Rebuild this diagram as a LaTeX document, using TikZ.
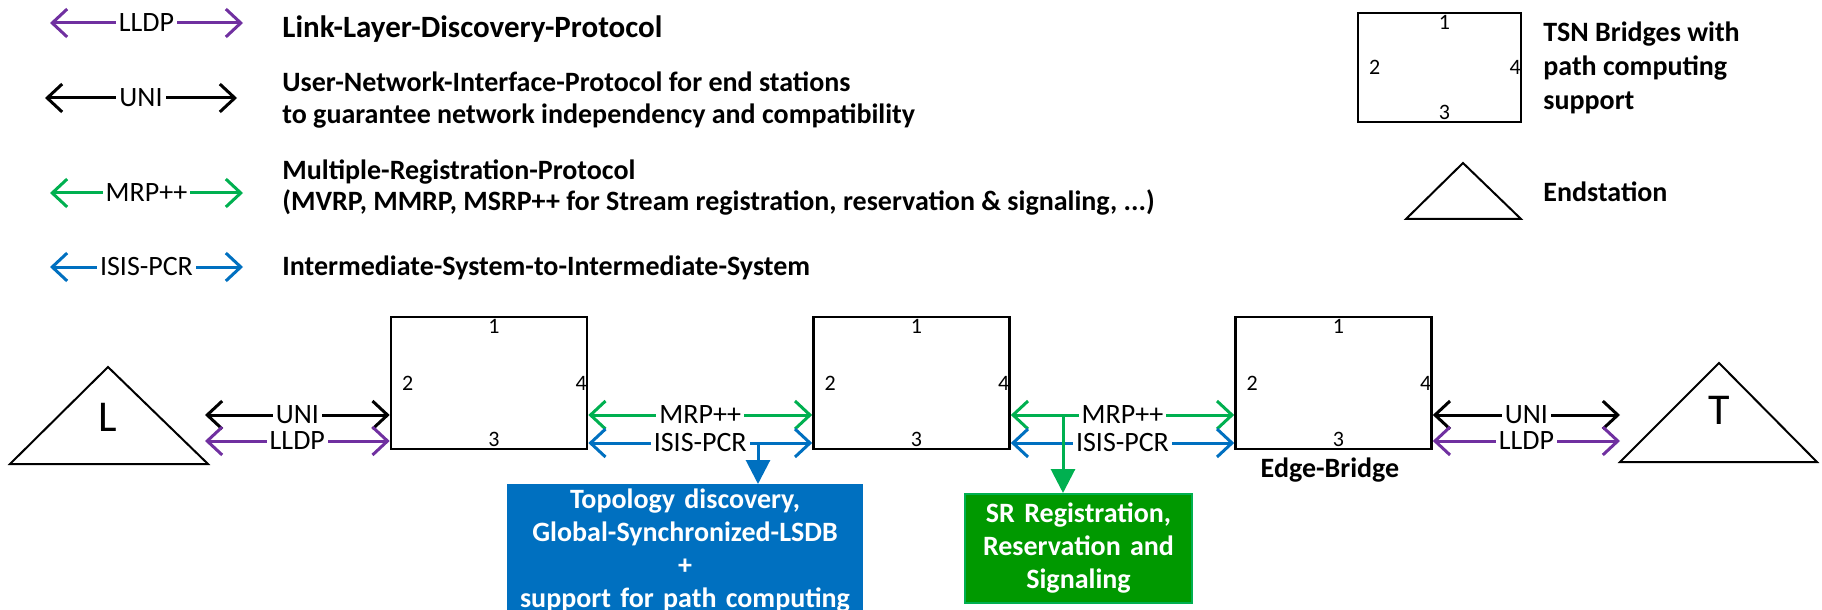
\documentclass[tikz,border=0pt]{standalone}
\usepackage{fontspec}
\setmainfont{Carlito}
\usetikzlibrary{arrows.meta,calc}
\definecolor{cpurple}{HTML}{7030A0}
\definecolor{cgreen}{HTML}{00B050}
\definecolor{cblue}{HTML}{0070C0}
\definecolor{cgbox}{HTML}{009900}
\newcommand{\mkports}[1]{%
  \node[digit] (#1-p1) at ([xshift=2.5pt,yshift=-5.5pt]#1.north) {1};
  \node[digit] (#1-p2) at ([xshift=9pt]#1.west) {2};
  \node[digit] (#1-p4) at ([xshift=-3.5pt]#1.east) {4};
  \node[digit] (#1-p3) at ([xshift=2.5pt,yshift=5.5pt]#1.south) {3};}
\begin{document}
\begin{tikzpicture}[x=0.5pt,y=-0.5pt,
  every node/.style={font=\fontsize{14pt}{16pt}\selectfont, inner sep=0pt},
  proto/.style={line width=1.5pt,{Straight Barb[length=7.5pt,width=14pt]}-{Straight Barb[length=7.5pt,width=14pt]}},
  lbl/.style={fill=white, text=black, inner xsep=1.5pt, inner ysep=1pt},
  legtext/.style={font=\fontsize{14pt}{16pt}\selectfont\bfseries, align=left, anchor=base west},
  bridge/.style={draw, line width=1.3pt, minimum width=98pt, minimum height=66pt},
  digit/.style={font=\fontsize{11pt}{12pt}\selectfont},
  endst/.style={line width=1pt, line join=miter},
  drop/.style={line width=1.5pt, -{Triangle[length=12pt,width=12pt]}},
  infobox/.style={text=white, font=\fontsize{14pt}{16.6pt}\selectfont\bfseries, align=center, inner xsep=0pt}
]
\useasboundingbox (0,0) rectangle (1822,610);

% ---------- legend, left ----------
\coordinate (lgA1) at (50,23);  \coordinate (lgB1) at (243,23);
\coordinate (lgA2) at (45,98);  \coordinate (lgB2) at (237,98);
\coordinate (lgA3) at (50,193); \coordinate (lgB3) at (243,193);
\coordinate (lgA4) at (50,267); \coordinate (lgB4) at (243,267);
\draw[proto,cpurple] (lgA1) -- node[lbl] (lgL1) {LLDP} (lgB1);
\draw[proto,black] (lgA2) -- node[lbl] (lgL2) {UNI} (lgB2);
\draw[proto,cgreen] (lgA3) -- node[lbl] (lgL3) {MRP++} (lgB3);
\draw[proto,cblue] (lgA4) -- node[lbl] (lgL4) {ISIS-PCR} (lgB4);
\node[legtext, font=\fontsize{15.5pt}{17pt}\selectfont\bfseries] (tLLDP) at (282,38) {Link-Layer-Discovery-Protocol};
\node[legtext] (tUNI) at (282,124) {User-Network-Interface-Protocol for end stations\\to guarantee network independency and compatibility};
\node[legtext] (tMRP) at (282,211) {Multiple-Registration-Protocol\\(MVRP, MMRP, MSRP++ for Stream registration, reservation \& signaling, ...)};
\node[legtext] (tISIS) at (282,275) {Intermediate-System-to-Intermediate-System};

% ---------- legend, right ----------
\node[bridge, minimum width=81.5pt, minimum height=54.5pt] (legbox) at (1439.5,67.5) {};
\mkports{legbox}
\node[legtext, font=\fontsize{14pt}{17pt}\selectfont\bfseries] (tTSN) at (1543,110) {TSN Bridges with\\path computing\\support};
\draw[endst] (1406,219) -- (1463,163) -- (1521,219) -- cycle;
\node[legtext] (tEnd) at (1543,201) {Endstation};

% ---------- network ----------
\draw[endst] (10,464) -- (108,367) -- (208,464) -- cycle;
\node[font=\fontsize{22pt}{24pt}\selectfont] (Ltxt) at (108,417) {L};
\draw[endst] (1620,462) -- (1719,363) -- (1817,462) -- cycle;
\node[font=\fontsize{22pt}{24pt}\selectfont] (Ttxt) at (1719,410) {T};

\node[bridge] (b1) at (489,383) {};
\node[bridge] (b2) at (911.5,383) {};
\node[bridge] (b3) at (1333.5,383) {};
\mkports{b1}
\mkports{b2}
\mkports{b3}
\node[legtext, anchor=base] (eb) at (1330,477) {Edge-Bridge};

\coordinate (Luni) at (205,415);
\coordinate (Llldp) at (205,441);
\coordinate (Tuni) at (1620,415);
\coordinate (Tlldp) at (1620,441);

\draw[proto,black] (Luni) -- node[lbl] (n1) {UNI} ([yshift=-16pt]b1.west);
\draw[proto,cpurple] (Llldp) -- node[lbl] (n2) {LLDP} ([yshift=-29pt]b1.west);
\draw[proto,cgreen] ([yshift=-16pt]b1.east) -- node[lbl] (n3) {MRP++} ([yshift=-16pt]b2.west);
\draw[proto,cblue] ([yshift=-30pt]b1.east) -- node[lbl] (n4) {ISIS-PCR} ([yshift=-30pt]b2.west);
\draw[proto,cgreen] ([yshift=-16pt]b2.east) -- node[lbl] (n5) {MRP++} ([yshift=-16pt]b3.west);
\draw[proto,cblue] ([yshift=-30pt]b2.east) -- node[lbl] (n6) {ISIS-PCR} ([yshift=-30pt]b3.west);
\draw[proto,black] ([yshift=-16pt]b3.east) -- node[lbl] (n7) {UNI} (Tuni);
\draw[proto,cpurple] ([yshift=-29pt]b3.east) -- node[lbl] (n8) {LLDP} (Tlldp);

\node[infobox, fill=cblue, text width=178pt, anchor=north, inner ysep=2pt] (blue) at (685,484)
  {Topology discovery,\\Global-Synchronized-LSDB\\+\\support for path computing};
\node[infobox, fill=cgbox, draw=cgreen, line width=0.8pt, text width=113.5pt, minimum height=54.5pt, anchor=north] (green) at (1078.5,493)
  {\rule{0pt}{1.5pt}SR Registration,\\Reservation and\\Signaling};

\coordinate (bdrop) at (758,443);
\coordinate (gdrop) at (1063,415);
\draw[drop,cblue] (bdrop) -- (bdrop |- blue.north);
\draw[drop,cgreen] (gdrop) -- (gdrop |- green.north);
\end{tikzpicture}
\end{document}
